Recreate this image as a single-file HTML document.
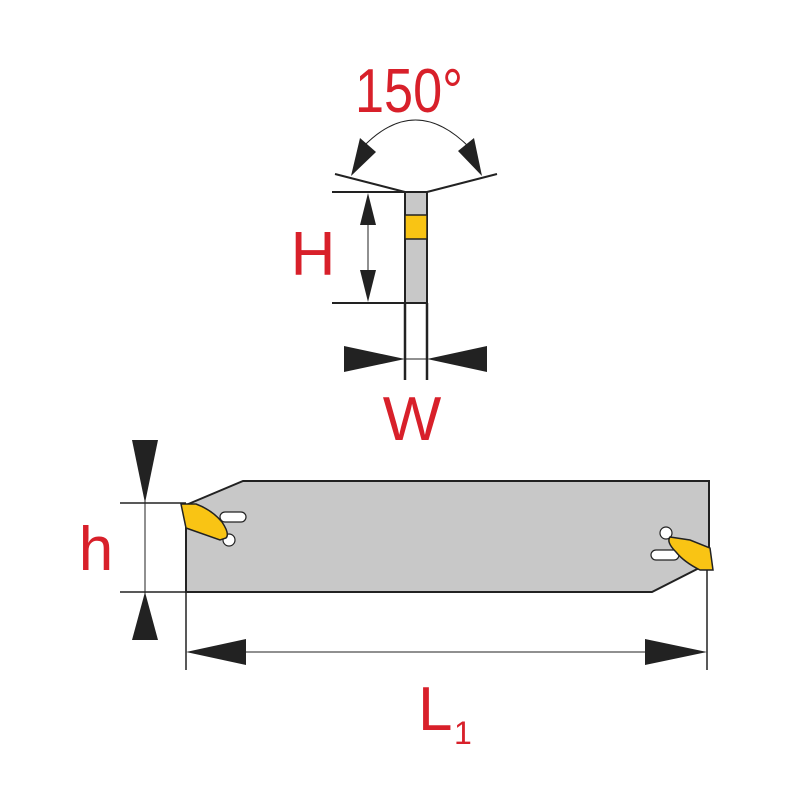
<!DOCTYPE html><html><head><style>body{margin:0;background:#fff}svg{display:block}text{font-family:"Liberation Sans",sans-serif;fill:#d8202a}</style></head><body>
<svg width="800" height="800" viewBox="0 0 800 800" xmlns="http://www.w3.org/2000/svg">
<g stroke="#222" fill="none" stroke-width="1.5">
<path d="M362,148 Q415,92 470,148" stroke-width="1"/>
<path d="M335,174 L405,192 M497,174 L427,192" stroke-width="2"/>
<path d="M332,192 H405 M332,303 H405" stroke-width="2"/>
<path d="M368,195 V300" stroke-width="1"/>
<path d="M405,303 V380 M427,303 V380" stroke-width="2.5"/>
<path d="M405,359 H427" stroke-width="1"/>
</g>
<rect x="405" y="192" width="22" height="111" fill="#c8c8c8" stroke="#222" stroke-width="2"/>
<rect x="405" y="215" width="22" height="24" fill="#f9c414" stroke="#222" stroke-width="1.5"/>
<g fill="#222">
<polygon points="351,176 360,138 376,152"/>
<polygon points="482,176 474,138 458,151"/>
<polygon points="368,193 360,225 376,225"/>
<polygon points="368,302 360,270 376,270"/>
<polygon points="405,359 344,346 344,372"/>
<polygon points="427,359 487,346 487,372"/>
</g>
<text x="355" y="112" font-size="62" textLength="108" lengthAdjust="spacingAndGlyphs">150°</text>
<text x="313" y="275" font-size="62" text-anchor="middle">H</text>
<text x="412" y="440" font-size="62" text-anchor="middle">W</text>
<polygon points="243,481 709,481 709,563 652,592 186,592 186,505 243,481" fill="#c8c8c8" stroke="#222" stroke-width="2"/>
<rect x="220" y="512" width="26" height="10" rx="5" fill="#fff" stroke="#222" stroke-width="1.2"/>
<circle cx="229" cy="540" r="6" fill="#fff" stroke="#222" stroke-width="1.2"/>
<path d="M181,504 L196,504 Q212,510 222,522 Q230,534 226,538 L220,540 L186,528 Z" fill="#f9c414" stroke="#222" stroke-width="1.5"/>
<rect x="651" y="550" width="28" height="10" rx="5" fill="#fff" stroke="#222" stroke-width="1.2"/>
<circle cx="666" cy="533" r="6" fill="#fff" stroke="#222" stroke-width="1.2"/>
<path d="M670,537 L690,540 L710,548 L713,570 L700,570 Q684,562 676,552 Q666,542 670,537 Z" fill="#f9c414" stroke="#222" stroke-width="1.5"/>
<g stroke="#222" fill="none">
<path d="M120,503 H186 M120,592 H186" stroke-width="1.5"/>
<path d="M145,440 V640" stroke-width="1"/>
<path d="M186,592 V670 M707,570 V670" stroke-width="1.5"/>
<path d="M190,652 H705" stroke-width="1"/>
</g>
<g fill="#222">
<polygon points="145,503 132,440 158,440"/>
<polygon points="145,592 132,640 158,640"/>
<polygon points="186,652 246,639 246,665"/>
<polygon points="707,652 645,639 645,665"/>
</g>
<text x="96" y="570" font-size="62" text-anchor="middle">h</text>
<text x="418" y="730" font-size="62">L</text>
<text x="454" y="744" font-size="32">1</text>
</svg></body></html>
